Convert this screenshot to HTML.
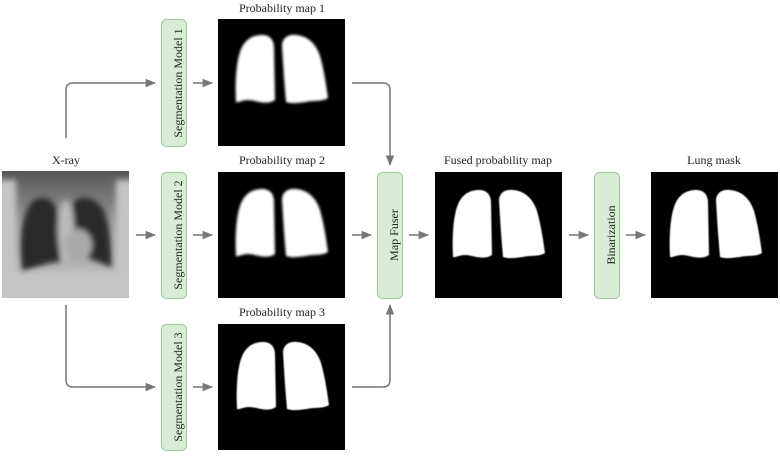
<!DOCTYPE html>
<html><head><meta charset="utf-8"><style>
html,body{margin:0;padding:0;background:#fff;}
svg text{font-family:"Liberation Serif",serif;}
</style></head><body>
<svg width="780" height="454" viewBox="0 0 780 454" xmlns="http://www.w3.org/2000/svg" style="font-family:'Liberation Serif',serif" font-size="11" fill="#222">
<defs>
<filter id="b1" x="-20%" y="-20%" width="140%" height="140%"><feGaussianBlur stdDeviation="1.4"/></filter>
<filter id="b0"><feGaussianBlur stdDeviation="0.5"/></filter>
<filter id="b4" x="-20%" y="-20%" width="140%" height="140%"><feGaussianBlur stdDeviation="3"/></filter>
<marker id="ar" viewBox="0 0 10 10" refX="9" refY="5" markerWidth="7" markerHeight="7" orient="auto"><path d="M0,1 L10,5 L0,9 Z" fill="#777"/></marker>
<g id="lungs">
<path d="M18,84 C17,66 18,46 22,34 C26,22 34,17 44,17 C52,17 56,22 56,30 L57,82 C48,88 38,82 30,82 C24,82 20,85 18,84Z" fill="#fff"/>
<path d="M64,28 C64,20 70,16 78,17 C90,18 98,26 102,38 C106,52 108,66 110,80 C104,84 96,82 88,84 C80,85 74,86 68,84 L66,60 Z" fill="#fff"/>
</g>
</defs>
<g stroke="#777" stroke-width="1.5" fill="none">
<path d="M66,138 V90 Q66,83 73,83 H155" marker-end="url(#ar)"/>
<path d="M66,305 V380 Q66,387 73,387 H155" marker-end="url(#ar)"/>
<path d="M136,235 H155" marker-end="url(#ar)"/>
<path d="M193,83 H212" marker-end="url(#ar)"/>
<path d="M193,235 H212" marker-end="url(#ar)"/>
<path d="M193,387 H212" marker-end="url(#ar)"/>
<path d="M352,83 H383 Q390,83 390,90 V165" marker-end="url(#ar)"/>
<path d="M352,387 H383 Q390,387 390,380 V305" marker-end="url(#ar)"/>
<path d="M352,235 H371" marker-end="url(#ar)"/>
<path d="M409,235 H428" marker-end="url(#ar)"/>
<path d="M569,235 H588" marker-end="url(#ar)"/>
<path d="M626,235 H645" marker-end="url(#ar)"/>
</g>
<g fill="#d9ecd5" stroke="#9bc995" stroke-width="1">
<rect x="161.5" y="19.5" width="25" height="127" rx="5"/>
<rect x="161.5" y="172.5" width="25" height="126" rx="5"/>
<rect x="161.5" y="324.5" width="25" height="126" rx="5"/>
<rect x="377.5" y="172.5" width="25" height="126" rx="5"/>
<rect x="594.5" y="172.5" width="25" height="126" rx="5"/>
</g>
<g font-size="12" text-anchor="middle">
<text transform="translate(178,83) rotate(-90)" dy="4">Segmentation Model 1</text>
<text transform="translate(178,235) rotate(-90)" dy="4">Segmentation Model 2</text>
<text transform="translate(178,387) rotate(-90)" dy="4">Segmentation Model 3</text>
<text transform="translate(394,235) rotate(-90)" dy="4">Map Fuser</text>
<text transform="translate(611,235) rotate(-90)" dy="4">Binarization</text>
<text x="282" y="12">Probability map 1</text>
<text x="282" y="164">Probability map 2</text>
<text x="282" y="316">Probability map 3</text>
<text x="66" y="164">X-ray</text>
<text x="498" y="164">Fused probability map</text>
<text x="714" y="164">Lung mask</text>
</g>
<!-- X-ray -->
<defs><clipPath id="xc"><rect x="2" y="171" width="127" height="127"/></clipPath>
<linearGradient id="xg" x1="0" y1="0" x2="0" y2="1"><stop offset="0" stop-color="#555"/><stop offset="0.4" stop-color="#999"/><stop offset="1" stop-color="#c8c8c8"/></linearGradient></defs>
<g clip-path="url(#xc)">
<rect x="2" y="171" width="127" height="127" fill="url(#xg)"/>
<g filter="url(#b4)">
<rect x="-4" y="180" width="20" height="120" fill="#c4c4c4"/>
<rect x="116" y="180" width="20" height="120" fill="#c4c4c4"/>
<path d="M22,272 C18,240 22,210 34,200 C45,194 56,200 58,215 L60,262 C48,262 35,268 22,272Z" fill="#2c2c2c"/>
<path d="M72,205 C78,193 95,196 104,210 C110,225 112,250 112,268 C100,262 88,258 76,255 Z" fill="#2c2c2c"/>
<ellipse cx="66" cy="230" rx="8" ry="30" fill="#bbb"/>
<ellipse cx="78" cy="245" rx="14" ry="16" fill="#aaa"/>
<rect x="2" y="272" width="127" height="30" fill="#c5c5c5"/>
</g>
</g>
<!-- maps -->
<rect x="218" y="19" width="127" height="127" fill="#000"/>
<g transform="translate(218,18)" filter="url(#b1)"><use href="#lungs"/></g>
<rect x="218" y="172" width="127" height="126" fill="#000"/>
<g transform="translate(218,172)" filter="url(#b1)"><use href="#lungs"/></g>
<rect x="218" y="324" width="127" height="126" fill="#000"/>
<g transform="translate(219,325)" filter="url(#b0)"><use href="#lungs"/></g>
<rect x="435" y="172" width="127" height="126" fill="#000"/>
<g transform="translate(435,173)" filter="url(#b0)"><use href="#lungs"/></g>
<rect x="651" y="172" width="127" height="126" fill="#000"/>
<g transform="translate(652,173)" filter="url(#b0)"><use href="#lungs"/></g>
</svg>
</body></html>
